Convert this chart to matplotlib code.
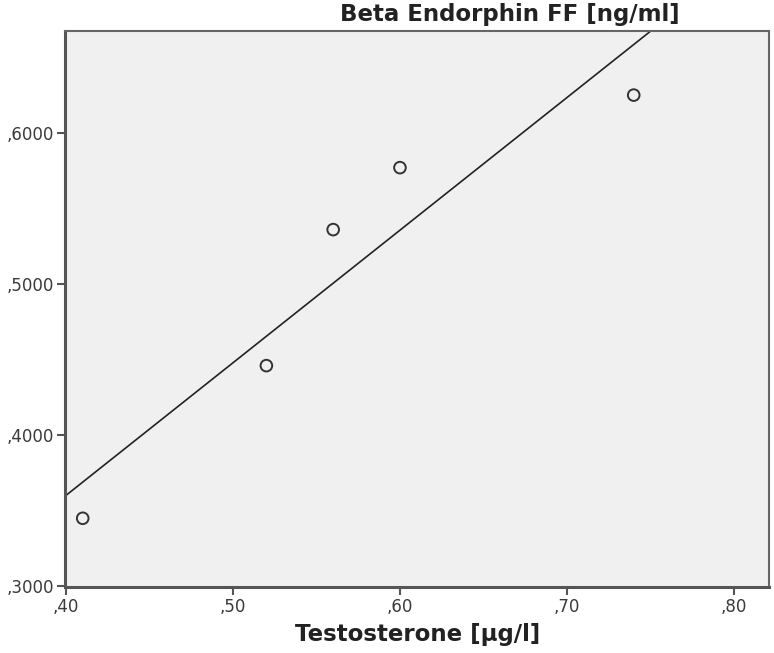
import matplotlib
matplotlib.use('Agg')
import matplotlib.pyplot as plt
import numpy as np

# data
testosterone = [0.41, 0.52, 0.56, 0.60, 0.74]
beta_endorphin = [0.345, 0.446, 0.536, 0.577, 0.625]
x_ticks = [0.40, 0.50, 0.60, 0.70, 0.80]
x_tick_labels = [',40', ',50', ',60', ',70', ',80']
y_ticks = [0.30, 0.40, 0.50, 0.60]
y_tick_labels = [',3000', ',4000', ',5000', ',6000']

fig = plt.figure(figsize=(7.74, 6.53), dpi=100)
ax = fig.add_axes([0.084, 0.101, 0.9095, 0.8515])
ax.set_facecolor('#f0f0f0')

# linear fit line
slope, icpt = np.polyfit(testosterone, beta_endorphin, 1)
xl = np.array([0.3, 0.9])
ax.plot(xl, slope * xl + icpt, color='#222222', linewidth=1.2, zorder=2)

ax.scatter(testosterone, beta_endorphin, s=70, facecolors='none',
           edgecolors='#333333', linewidths=1.4, zorder=3)

ax.set_xlim(0.3994, 0.821)
ax.set_ylim(0.2995, 0.6674)
ax.set_xticks(x_ticks)
ax.set_xticklabels(x_tick_labels)
ax.set_yticks(y_ticks)
ax.set_yticklabels(y_tick_labels)
ax.tick_params(direction='out', length=6, width=1.5, color='#555555',
               labelsize=12, labelcolor='#3a3a3a', pad=2)

for side in ['left', 'bottom']:
    ax.spines[side].set_linewidth(2.2)
    ax.spines[side].set_color('#555555')
for side in ['top', 'right']:
    ax.spines[side].set_linewidth(1.5)
    ax.spines[side].set_color('#666666')

fig.text(0.659, 0.978, 'Beta Endorphin FF [ng/ml]', ha='center', va='center',
         fontsize=16.5, fontweight='bold', color='#222222')
fig.text(0.54, 0.028, 'Testosterone [\u00b5g/l]', ha='center', va='center',
         fontsize=16.5, fontweight='bold', color='#222222')

fig.savefig('out.png', dpi=100)
